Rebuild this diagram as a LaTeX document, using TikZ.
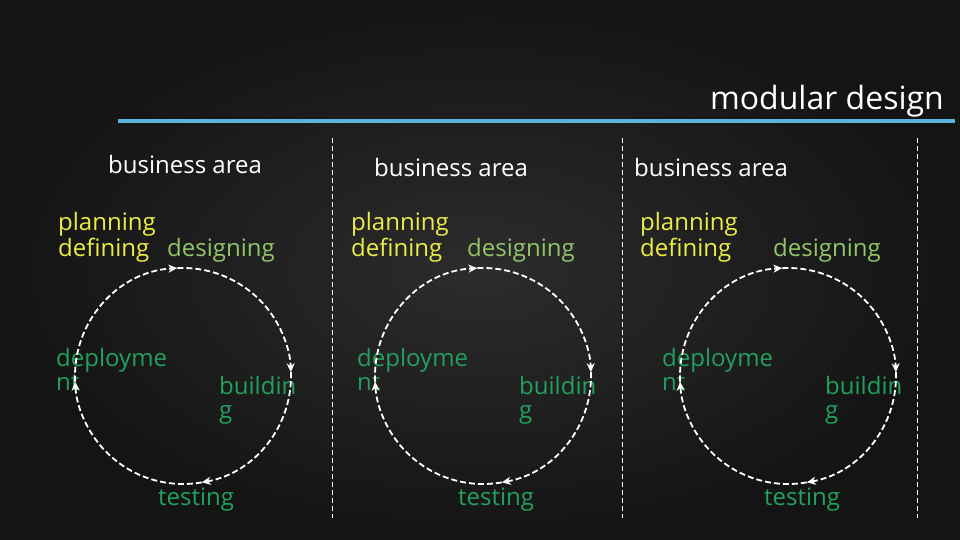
\documentclass[tikz,border=0pt]{standalone}
\usepackage{fontspec}
\setmainfont{Open Sans}
\usetikzlibrary{arrows.meta}
\definecolor{boardin}{RGB}{44,44,44}
\definecolor{boardout}{RGB}{20,20,20}
\definecolor{chalkblue}{RGB}{92,180,220}
\definecolor{planyellow}{RGB}{236,236,72}
\definecolor{desgreen}{RGB}{146,196,104}
\definecolor{stepgreen}{RGB}{34,160,94}
\begin{document}
\begin{tikzpicture}[x=1pt,y=-1pt,
    lbl/.style={anchor=base west,inner sep=0pt,align=left,font=\fontsize{24}{24}\selectfont},
    cyc/.style={white,line width=1.8pt,dash pattern=on 6pt off 3pt,-{Stealth[length=9pt,width=8pt]}},
    sep/.style={white,line width=0.8pt,dash pattern=on 5pt off 3pt}]
    \useasboundingbox (0,0) rectangle (960,540);
    \shade[inner color=boardin,outer color=boardout] (0,0) rectangle (960,540);
    \node[anchor=base east,inner sep=0pt,white,font=\fontsize{32}{32}\selectfont] (title) at (944,110) {modular design};
    \coordinate (ul) at (118,121);
    \coordinate (ur) at (955,121);
    \draw[chalkblue,line width=3.5pt] (ul) -- (ur);
    \foreach \x [count=\k] in {332,622,917} {
        \coordinate (st\k) at (\x,138);
        \coordinate (sb\k) at (\x,518);
        \draw[sep] (st\k) -- (sb\k);
    }
    \foreach \i/\cx/\bx/\by/\px/\dx/\ex/\ux/\tx in {1/183/108/174/58/167/56/219/158,
        2/483/374/177/351/467/357/519/458, 3/788/634/177/640/773/662/825/764} {
        \node[lbl,white] (biz\i) at (\bx,\by) {business area};
        \node[lbl,planyellow] (plan\i) at (\px,256) {planning\\defining};
        \node[lbl,desgreen] (des\i) at (\dx,256) {designing};
        \node[lbl,stepgreen] (dep\i) at (\ex,390) {deployme\\nt};
        \node[lbl,stepgreen] (bld\i) at (\ux,418) {buildin\\g};
        \node[lbl,stepgreen] (tst\i) at (\tx,505) {testing};
        \coordinate (c\i) at (\cx,376);
        \draw[cyc] (c\i) ++(177:108) arc[start angle=177,end angle=267,radius=108];
        \draw[cyc] (c\i) ++(267:108) arc[start angle=267,end angle=358,radius=108];
        \draw[cyc] (c\i) ++(358:108) arc[start angle=358,end angle=440,radius=108];
        \draw[cyc] (c\i) ++(80:108) arc[start angle=80,end angle=177,radius=108];
    }
\end{tikzpicture}
\end{document}
